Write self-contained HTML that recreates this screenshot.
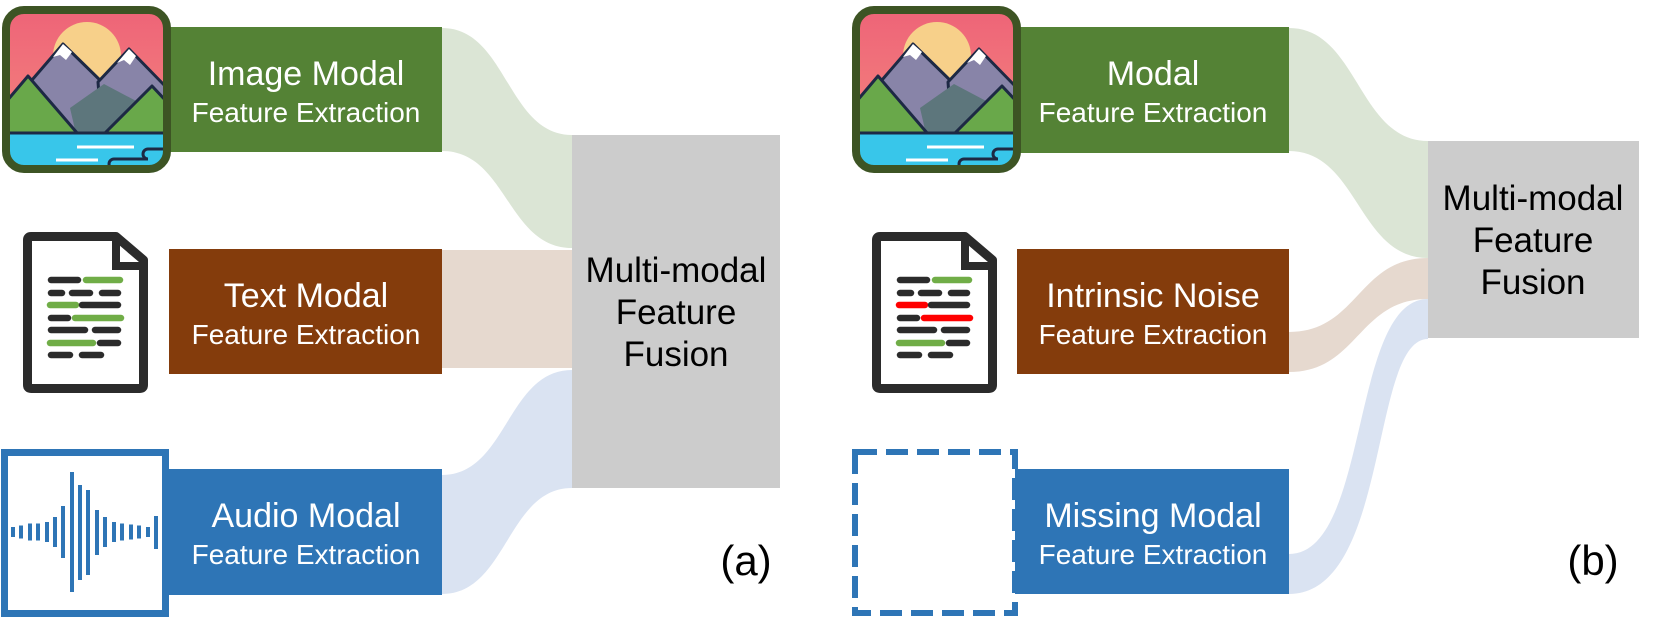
<!DOCTYPE html>
<html><head><meta charset="utf-8"><style>
html,body{margin:0;padding:0;background:#fff;}
svg{display:block;}
text{font-family:"Liberation Sans",Arial,sans-serif;}
</style></head><body>
<svg width="1661" height="625" viewBox="0 0 1661 625" xmlns="http://www.w3.org/2000/svg">
<defs>
<linearGradient id="sky" x1="0" y1="0" x2="0" y2="1"><stop offset="0" stop-color="#ee6478"/><stop offset="1" stop-color="#f58a7e"/></linearGradient>
<clipPath id="ic"><rect x="0" y="0" width="161" height="159" rx="18"/></clipPath>
<g id="imgicon">
 <g clip-path="url(#ic)">
  <rect x="0" y="0" width="161" height="160" fill="url(#sky)"/>
  <circle cx="81" cy="46" r="34" fill="#f7d08a"/>
  <polygon points="26,70 57,34 100,76 72,124 26,124" fill="#8884a8" stroke="#1d2944" stroke-width="3" stroke-linejoin="round"/>
  <polygon points="92,72 123,39 161,78 161,124 96,124" fill="#8884a8" stroke="#1d2944" stroke-width="3" stroke-linejoin="round"/>
  <polygon points="57,34 47,47 54,45 60,50 66,42" fill="#fff"/>
  <polygon points="123,39 111,53 118,50 124,55 130,46" fill="#fff"/>
  <polygon points="64,98 98,74 132,92 112,124 70,124" fill="#5d767c"/>
  <polygon points="0,92 22,66 72,124 0,124" fill="#69a84a" stroke="#1d2944" stroke-width="3" stroke-linejoin="round"/>
  <polygon points="98,124 146,76 161,92 161,124" fill="#69a84a" stroke="#1d2944" stroke-width="3" stroke-linejoin="round"/>
  <rect x="0" y="122" width="161" height="40" fill="#38c6ea"/>
  <line x1="0" y1="123" x2="161" y2="123" stroke="#1d2944" stroke-width="3"/>
  <line x1="71" y1="137" x2="128" y2="137" stroke="#fff" stroke-width="3"/>
  <line x1="50" y1="150" x2="92" y2="150" stroke="#fff" stroke-width="3"/>
  <path d="M161,139 H142 a5,5 0 0 0 0,10 H108 a5,5 0 0 0 0,10 H161" fill="none" stroke="#1d2944" stroke-width="3"/>
 </g>
 <rect x="0" y="0" width="161" height="159" rx="18" fill="none" stroke="#3d5424" stroke-width="8"/>
</g>
<g id="docframe">
 <path d="M27.5,240 Q27.5,236.5 31,236.5 H116 L143.5,260 V385 Q143.5,388.5 140,388.5 H31 Q27.5,388.5 27.5,385 Z" fill="#fff" stroke="#2b2b2b" stroke-width="9" stroke-linejoin="round"/>
 <path d="M116,236.5 V266 H143.5" fill="none" stroke="#2b2b2b" stroke-width="8"/>
</g>
</defs>

<!-- flows (a) -->
<path d="M442,28 C507,28 507,135 572,135 L572,248 C507,248 507,151 442,151 Z" fill="#dbe5d5"/>
<rect x="442" y="250" width="130" height="118" fill="#e6d9cf"/>
<path d="M442,475 C507,475 507,370 572,370 L572,488 C507,488 507,594 442,594 Z" fill="#dae3f2"/>
<!-- flows (b) -->
<path d="M1289,28 C1358,28 1358,141 1428,141 L1428,258 C1358,258 1358,151 1289,151 Z" fill="#dbe5d5"/>
<path d="M1289,332 C1358,332 1358,258 1428,258 L1428,299 C1358,299 1358,372 1289,372 Z" fill="#e6d9cf"/>
<path d="M1289,554 C1370,554 1350,299 1428,299 L1428,339 C1370,339 1390,594 1289,594 Z" fill="#dae3f2"/>

<!-- (a) boxes -->
<rect x="165" y="27" width="277" height="125" fill="#548235"/>
<rect x="169" y="249" width="273" height="125" fill="#843c0c"/>
<rect x="165" y="469" width="277" height="126" fill="#2e75b6"/>
<rect x="572" y="135" width="208" height="353" fill="#cccccc"/>

<!-- (b) boxes -->
<rect x="1015" y="27" width="274" height="126" fill="#548235"/>
<rect x="1017" y="249" width="272" height="125" fill="#843c0c"/>
<rect x="1012" y="469" width="277" height="125" fill="#2e75b6"/>
<rect x="1428" y="141" width="211" height="197" fill="#cccccc"/>

<!-- icons (a) -->
<use href="#imgicon" transform="translate(6,10)"/>
<use href="#docframe"/>
<g stroke-linecap="round" stroke-width="6.5">
 <line x1="51" y1="280" x2="78" y2="280" stroke="#2b2b2b"/><line x1="86" y1="280" x2="120" y2="280" stroke="#70ad47"/>
 <line x1="51" y1="293" x2="62" y2="293" stroke="#2b2b2b"/><line x1="72" y1="293" x2="90" y2="293" stroke="#2b2b2b"/><line x1="102" y1="293" x2="118" y2="293" stroke="#2b2b2b"/>
 <line x1="50" y1="305" x2="76" y2="305" stroke="#70ad47"/><line x1="82" y1="305" x2="118" y2="305" stroke="#2b2b2b"/>
 <line x1="51" y1="318" x2="68" y2="318" stroke="#2b2b2b"/><line x1="75" y1="318" x2="121" y2="318" stroke="#70ad47"/>
 <line x1="51" y1="330" x2="85" y2="330" stroke="#2b2b2b"/><line x1="95" y1="330" x2="118" y2="330" stroke="#2b2b2b"/>
 <line x1="50" y1="343" x2="93" y2="343" stroke="#70ad47"/><line x1="100" y1="343" x2="118" y2="343" stroke="#2b2b2b"/>
 <line x1="51" y1="355" x2="70" y2="355" stroke="#2b2b2b"/><line x1="82" y1="355" x2="101" y2="355" stroke="#2b2b2b"/>
</g>
<rect x="4.5" y="452.5" width="161" height="161" fill="#fff" stroke="#2e75b6" stroke-width="7"/>
<g fill="#2e75b6">
 <rect x="11" y="527" width="4" height="10"/><rect x="19" y="525.5" width="4" height="13"/><rect x="28" y="523.5" width="4" height="17"/><rect x="36" y="523.5" width="4" height="17"/>
 <rect x="45" y="522" width="4" height="20"/><rect x="53" y="517" width="4" height="30"/><rect x="61" y="506" width="4" height="52"/><rect x="70" y="472" width="4" height="120"/>
 <rect x="78" y="485" width="4" height="95"/><rect x="86" y="490" width="4" height="85"/><rect x="95" y="510" width="4" height="45"/><rect x="103" y="517" width="4" height="30"/>
 <rect x="112" y="522" width="4" height="20"/><rect x="120" y="523.5" width="4" height="17"/><rect x="129" y="524.5" width="4" height="15"/><rect x="137" y="525.5" width="4" height="13"/>
 <rect x="146" y="527" width="4" height="10"/><rect x="154" y="516" width="4" height="33"/>
</g>

<!-- icons (b) -->
<use href="#imgicon" transform="translate(856,10)"/>
<use href="#docframe" transform="translate(849,0)"/>
<g stroke-linecap="round" stroke-width="6.5" transform="translate(849,0)">
 <line x1="51" y1="280" x2="78" y2="280" stroke="#2b2b2b"/><line x1="86" y1="280" x2="120" y2="280" stroke="#70ad47"/>
 <line x1="51" y1="293" x2="62" y2="293" stroke="#2b2b2b"/><line x1="72" y1="293" x2="90" y2="293" stroke="#2b2b2b"/><line x1="102" y1="293" x2="118" y2="293" stroke="#2b2b2b"/>
 <line x1="50" y1="305" x2="76" y2="305" stroke="#ff0000"/><line x1="82" y1="305" x2="118" y2="305" stroke="#2b2b2b"/>
 <line x1="51" y1="318" x2="68" y2="318" stroke="#2b2b2b"/><line x1="75" y1="318" x2="121" y2="318" stroke="#ff0000"/>
 <line x1="51" y1="330" x2="85" y2="330" stroke="#2b2b2b"/><line x1="95" y1="330" x2="118" y2="330" stroke="#2b2b2b"/>
 <line x1="50" y1="343" x2="93" y2="343" stroke="#70ad47"/><line x1="100" y1="343" x2="118" y2="343" stroke="#2b2b2b"/>
 <line x1="51" y1="355" x2="70" y2="355" stroke="#2b2b2b"/><line x1="82" y1="355" x2="101" y2="355" stroke="#2b2b2b"/>
</g>
<rect x="855" y="452" width="160" height="161" fill="#fff" stroke="#2e75b6" stroke-width="6" stroke-dasharray="22,9"/>

<!-- texts -->
<g fill="#fff" text-anchor="middle">
 <text x="306" y="85" font-size="34">Image Modal</text>
 <text x="306" y="122" font-size="28">Feature Extraction</text>
 <text x="306" y="307" font-size="34">Text Modal</text>
 <text x="306" y="344" font-size="28">Feature Extraction</text>
 <text x="306" y="527" font-size="34">Audio Modal</text>
 <text x="306" y="564" font-size="28">Feature Extraction</text>
 <text x="1153" y="85" font-size="34">Modal</text>
 <text x="1153" y="122" font-size="28">Feature Extraction</text>
 <text x="1153" y="307" font-size="34">Intrinsic Noise</text>
 <text x="1153" y="344" font-size="28">Feature Extraction</text>
 <text x="1153" y="527" font-size="34">Missing Modal</text>
 <text x="1153" y="564" font-size="28">Feature Extraction</text>
</g>
<g fill="#000" text-anchor="middle" font-size="35">
 <text x="676" y="282">Multi-modal</text>
 <text x="676" y="324">Feature</text>
 <text x="676" y="366">Fusion</text>
 <text x="1533" y="210">Multi-modal</text>
 <text x="1533" y="252">Feature</text>
 <text x="1533" y="294">Fusion</text>
</g>
<text x="746" y="575" font-size="42" text-anchor="middle">(a)</text>
<text x="1593" y="575" font-size="42" text-anchor="middle">(b)</text>
</svg>
</body></html>
